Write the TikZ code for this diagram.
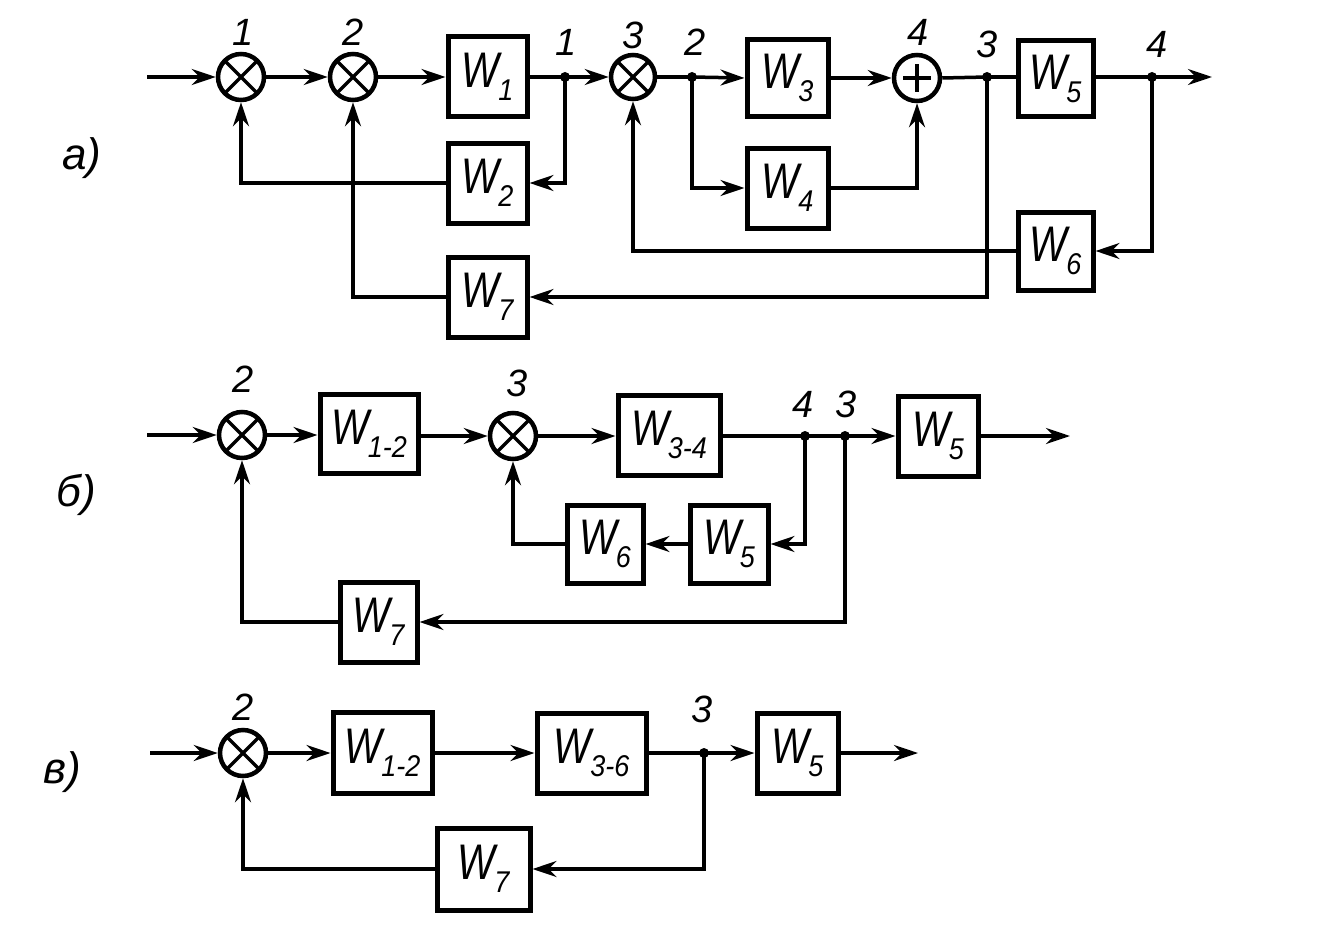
\documentclass[tikz,border=0pt]{standalone}
\usepackage{fontspec}
\setmainfont{Liberation Sans}
\usetikzlibrary{arrows.meta}
\newcommand{\wlab}[1]{\scalebox{0.8}[1]{W}\kern-1pt\raisebox{-13pt}{\fontsize{30}{30}\selectfont\scalebox{0.9}[1]{#1}}}
\begin{document}
\begin{tikzpicture}[x=1pt,y=-1pt,line width=3.5pt,
  blk/.style={draw,line width=5pt,inner sep=0pt,font=\itshape\fontsize{50}{50}\selectfont},
  sumx/.style={circle,draw,line width=4.5pt,minimum size=46pt,inner sep=0pt,
    path picture={\draw[line width=3.5pt] (path picture bounding box.north west) -- (path picture bounding box.south east)
      (path picture bounding box.north east) -- (path picture bounding box.south west);}},
  sump/.style={circle,draw,line width=4.5pt,minimum size=46pt,inner sep=0pt,
    path picture={\draw[line width=3.5pt] ([xshift=-14pt]path picture bounding box.center) -- ([xshift=14pt]path picture bounding box.center)
      ([yshift=-14pt]path picture bounding box.center) -- ([yshift=14pt]path picture bounding box.center);}},
  dot/.style={circle,fill=black,inner sep=0pt,minimum size=10pt},
  lbl/.style={font=\itshape\fontsize{38}{38}\selectfont,inner sep=0pt},
  sec/.style={font=\itshape\fontsize{44}{44}\selectfont,inner sep=0pt},
  arr/.style={-{Stealth[length=24pt,width=16pt,inset=8pt]}}]
\useasboundingbox (0,0) rectangle (1337,931);

% ---------------- a)
\node[sec] (la) at (82,158) {а)};
\coordinate (ina) at (147,77);
\node[sumx] (s1) at (241,77) {};
\node[sumx] (s2) at (353,77) {};
\node[blk,minimum width=79pt,minimum height=80pt] (w1) at (487.5,77) {\wlab{1}};
\node[dot] (j1) at (565,77) {};
\node[sumx,minimum size=44pt] (s3) at (633,77) {};
\node[dot] (j2) at (692,77) {};
\node[blk,minimum width=81pt,minimum height=77pt] (w3) at (787.5,78) {\wlab{3}};
\node[sump] (s4) at (917,78) {};
\node[dot] (j3) at (987,77) {};
\node[blk,minimum width=75pt,minimum height=76pt] (w5) at (1055.5,79) {\wlab{5}};
\node[dot] (j4) at (1152,77) {};
\coordinate (outa) at (1212,77);
\node[blk,minimum width=79pt,minimum height=80pt] (w2) at (487.5,183) {\wlab{2}};
\node[blk,minimum width=81pt,minimum height=80pt] (w4) at (787.5,188) {\wlab{4}};
\node[blk,minimum width=75pt,minimum height=78pt] (w6) at (1055.5,251) {\wlab{6}};
\node[blk,minimum width=79pt,minimum height=80pt] (w7) at (487.5,297) {\wlab{7}};

\node[lbl] (n1) at (243,32) {1};
\node[lbl] (n2) at (353,32) {2};
\node[lbl] (n1b) at (566,42) {1};
\node[lbl] (n3) at (633,35) {3};
\node[lbl] (n2b) at (695,42) {2};
\node[lbl] (n4) at (918,32) {4};
\node[lbl] (n3b) at (987,44) {3};
\node[lbl] (n4b) at (1157,44) {4};

\draw[arr] (ina) -- (s1.west);
\draw[arr] (s1.east) -- (s2.west);
\draw[arr] (s2.east) -- (w1.west);
\draw (w1.east) -- (j1.center);
\draw[arr] (j1.center) -- (s3.west);
\draw (s3.east) -- (j2.center);
\draw[arr] (j2.center) -- (w3.west);
\draw[arr] (w3.east |- s4.west) -- (s4.west);
\draw (s4.east) -- (j3.center);
\draw (j3.center) -- (w5.west |- j3.center);
\draw (w5.east |- j4.center) -- (j4.center);
\draw[arr] (j4.center) -- (outa);
\draw[arr] (j1.center) |- (w2.east);
\draw[arr] (w2.west) -| (s1.south);
\draw[arr] (j2.center) |- (w4.west);
\draw[arr] (w4.east) -| (s4.south);
\draw[arr] (j4.center) |- (w6.east);
\draw[arr] (w6.west) -| (s3.south);
\draw[arr] (j3.center) |- (w7.east);
\draw[arr] (w7.west) -| (s2.south);

% ---------------- b)
\node[sec] (lb) at (76,495) {б)};
\coordinate (inb) at (147,435);
\node[sumx] (s2b) at (242,435) {};
\node[blk,minimum width=98pt,minimum height=79pt] (w12b) at (369,434) {\wlab{1-2}};
\node[sumx] (s3b) at (513,436) {};
\node[blk,minimum width=102pt,minimum height=80pt] (w34b) at (669,435) {\wlab{3-4}};
\node[dot] (j4b) at (805,436) {};
\node[dot] (j3b) at (845,436) {};
\node[blk,minimum width=80pt,minimum height=80pt] (w5b) at (938,436) {\wlab{5}};
\coordinate (outb) at (1070,436);
\node[blk,minimum width=78pt,minimum height=78pt] (w5lb) at (729,544) {\wlab{5}};
\node[blk,minimum width=76pt,minimum height=78pt] (w6b) at (605,544) {\wlab{6}};
\node[blk,minimum width=77pt,minimum height=80pt] (w7b) at (378.5,622) {\wlab{7}};

\node[lbl] (m2) at (243,379) {2};
\node[lbl] (m3) at (517,383) {3};
\node[lbl] (m4) at (803,404) {4};
\node[lbl] (m3b) at (846,404) {3};

\draw[arr] (inb) -- (s2b.west);
\draw[arr] (s2b.east) -- (w12b.west |- s2b.east);
\draw[arr] (w12b.east |- s3b.west) -- (s3b.west);
\draw[arr] (s3b.east) -- (w34b.west |- s3b.east);
\draw (w34b.east |- j4b.center) -- (j4b.center) -- (j3b.center);
\draw[arr] (j3b.center) -- (w5b.west |- j3b.center);
\draw[arr] (w5b.east |- outb) -- (outb);
\draw[arr] (j4b.center) |- (w5lb.east);
\draw[arr] (w5lb.west) -- (w6b.east);
\draw[arr] (w6b.west) -| (s3b.south);
\draw[arr] (j3b.center) |- (w7b.east);
\draw[arr] (w7b.west) -| (s2b.south);

% ---------------- c)
\node[sec] (lc) at (62,772) {в)};
\coordinate (inc) at (150,753);
\node[sumx] (s2c) at (243,753) {};
\node[blk,minimum width=99pt,minimum height=81pt] (w12c) at (382.5,752.5) {\wlab{1-2}};
\node[blk,minimum width=109pt,minimum height=80pt] (w36c) at (591.5,753) {\wlab{3-6}};
\node[dot] (j3c) at (704,753) {};
\node[blk,minimum width=81pt,minimum height=80pt] (w5c) at (797.5,753) {\wlab{5}};
\coordinate (outc) at (918,753);
\node[blk,minimum width=93pt,minimum height=82pt] (w7c) at (483.5,869) {\wlab{7}};

\node[lbl] (k2) at (243,707) {2};
\node[lbl] (k3) at (702,709) {3};

\draw[arr] (inc) -- (s2c.west);
\draw[arr] (s2c.east) -- (w12c.west |- s2c.east);
\draw[arr] (w12c.east |- w36c.west) -- (w36c.west);
\draw (w36c.east) -- (j3c.center);
\draw[arr] (j3c.center) -- (w5c.west);
\draw[arr] (w5c.east) -- (outc);
\draw[arr] (j3c.center) |- (w7c.east);
\draw[arr] (w7c.west) -| (s2c.south);
\end{tikzpicture}
\end{document}
